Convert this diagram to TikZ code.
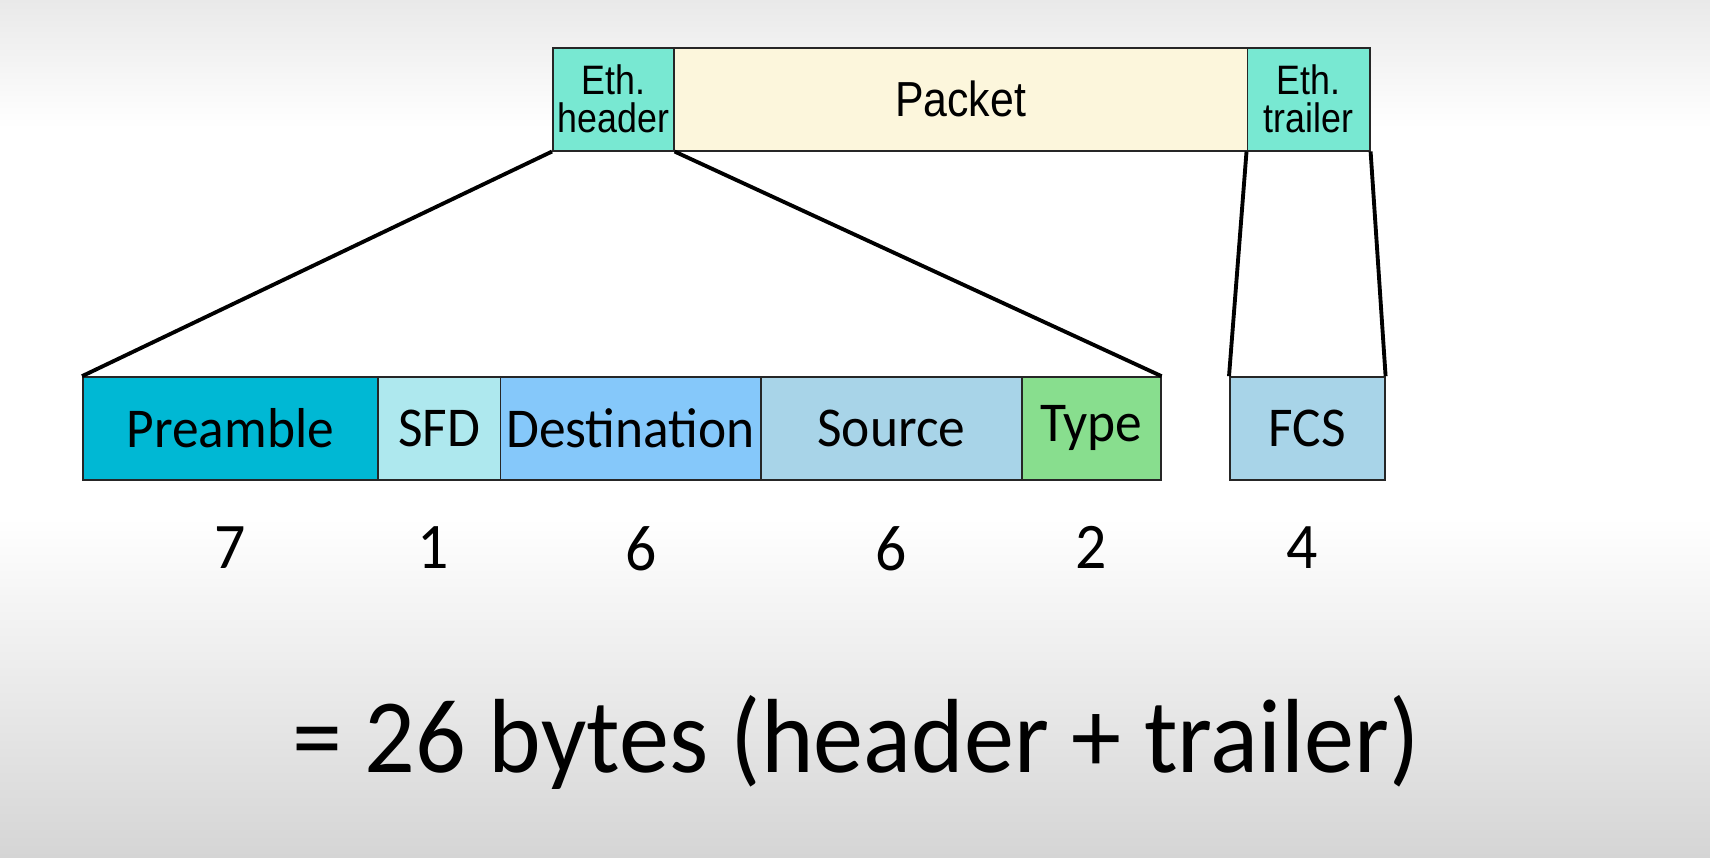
\documentclass[tikz,border=0pt]{standalone}
\usepackage{fontspec}
\setmainfont{Liberation Sans}
\newfontfamily\narrowfont{Liberation Sans}[FakeStretch=0.87]
\newfontfamily\handfont{Carlito}[FakeStretch=0.95]
\usetikzlibrary{positioning,calc}

\definecolor{bgtop}{RGB}{233,233,233}
\definecolor{bgbottom}{RGB}{213,213,213}
\definecolor{ethcolor}{RGB}{120,232,210}
\definecolor{packetcolor}{RGB}{252,246,220}
\definecolor{preamblecolor}{RGB}{0,184,212}
\definecolor{sfdcolor}{RGB}{174,232,238}
\definecolor{destcolor}{RGB}{133,200,250}
\definecolor{srccolor}{RGB}{168,212,232}
\definecolor{typecolor}{RGB}{136,222,142}

\tikzset{
  frame/.style={draw=black!85, line width=0.45pt, minimum height=1.03cm, inner sep=0pt, anchor=west},
  toplabel/.style={font=\narrowfont\fontsize{11.7}{10.8}\selectfont, align=center},
  fieldlabel/.style={font=\handfont\fontsize{16}{18}\selectfont},
  bytecount/.style={font=\handfont\fontsize{18.5}{20}\selectfont, inner sep=0pt},
  zoomline/.style={line width=1.1pt}
}

\begin{document}
\begin{tikzpicture}

\fill[white] (0,0) rectangle (17.1,8.58);
\shade[top color=bgtop, bottom color=white] (0,7.3) rectangle (17.1,8.58);
\shade[top color=white, bottom color=bgbottom] (0,0) rectangle (17.1,3.4);
\useasboundingbox (0,0) rectangle (17.1,8.58);

% frame
\node[frame, toplabel, fill=ethcolor, minimum width=1.21cm] (ethheader) at (5.52, 7.5875) {Eth.\\header};
\node[frame, toplabel, font=\narrowfont\fontsize{14}{16}\selectfont, fill=packetcolor, minimum width=5.735cm] (packet) at (6.73, 7.5875) {Packet};
\node[frame, toplabel, fill=ethcolor, minimum width=1.225cm] (ethtrailer) at (12.465, 7.5875) {Eth.\\trailer};

% header and trailer fields
\node[frame, fieldlabel, fill=preamblecolor, minimum width=2.95cm] (preamble) at (0.82, 4.295) {Preamble};
\node[frame, fieldlabel, fill=sfdcolor, minimum width=1.225cm] (sfd) at (3.77, 4.295) {SFD};
\node[frame, fieldlabel, fill=destcolor, minimum width=2.605cm] (dest) at (4.995, 4.295) {Destination};
\node[frame, fieldlabel, fill=srccolor, minimum width=2.61cm] (source) at (7.60, 4.295) {Source};
\node[frame, fieldlabel, fill=typecolor, minimum width=1.39cm] (type) at (10.21, 4.295) {Type};
\node[frame, fieldlabel, fill=srccolor, minimum width=1.55cm] (fcs) at (12.29, 4.295) {FCS};

\draw[zoomline] (ethheader.south west) -- (preamble.north west);
\draw[zoomline] (ethheader.south east) -- (type.north east);
\draw[zoomline] (ethtrailer.south west) -- (fcs.north west);
\draw[zoomline] (ethtrailer.south east) -- (fcs.north east);

% sizes in bytes
\node[bytecount, below=0.45cm of preamble] (npreamble) {7};
\node[bytecount, below=0.45cm of sfd, xshift=-0.06cm] (nsfd) {1};
\node[bytecount, below=0.45cm of dest, xshift=0.11cm] (ndest) {6};
\node[bytecount, below=0.45cm of source] (nsource) {6};
\node[bytecount, below=0.45cm of type] (ntype) {2};
\node[bytecount, below=0.45cm of fcs, xshift=-0.05cm] (nfcs) {4};

\node[font=\handfont\fontsize{30}{33}\selectfont] (total) at (8.56, 1.16) {= 26 bytes (header + trailer)};

\end{tikzpicture}
\end{document}
